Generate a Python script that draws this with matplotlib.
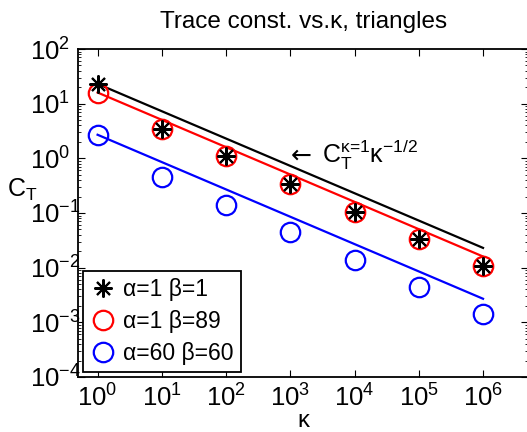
import matplotlib
matplotlib.use('Agg')
import matplotlib.pyplot as plt

plt.rcParams['font.family'] = ['Liberation Sans', 'DejaVu Sans']
plt.rcParams['mathtext.fontset'] = 'custom'
plt.rcParams['mathtext.rm'] = 'Liberation Sans'
plt.rcParams['mathtext.it'] = 'Liberation Sans'
plt.rcParams['mathtext.bf'] = 'Liberation Sans:bold'
plt.rcParams['axes.unicode_minus'] = True

# data
kappa = [1, 10, 100, 1e3, 1e4, 1e5, 1e6]
ct_a1_b1 = [22.9, 3.39, 1.10, 0.343, 0.106, 0.0333, 0.0107]
ct_a1_b89 = [15.4, 3.39, 1.10, 0.343, 0.106, 0.0333, 0.0107]
ct_a60_b60 = [2.68, 0.457, 0.143, 0.0442, 0.0139, 0.00438, 0.00141]

fit_kappa = [1, 1e6]
fit_black = [23, 0.023]
fit_red = [16, 0.016]
fit_blue = [2.7, 0.0027]

fig = plt.figure(figsize=(5.27, 4.32), dpi=100)
ax = fig.add_axes([78.3/527, (432-377)/432, (528-78.3)/527, (377-49)/432])

ax.plot(fit_kappa, fit_black, color='k', lw=1.6)
ax.plot(fit_kappa, fit_red, color='r', lw=1.6)
ax.plot(fit_kappa, fit_blue, color='b', lw=1.6)

h1, = ax.plot(kappa, ct_a1_b1, ls='none', marker=(8, 2, 0), ms=13, mew=1.5,
              color='k', zorder=4, label=r'α=1 β=1')
h2, = ax.plot(kappa, ct_a1_b89, ls='none', marker='o', ms=14, mew=1.6,
              mfc='none', mec='r', zorder=3, label=r'α=1 β=89')
h3, = ax.plot(kappa, ct_a60_b60, ls='none', marker='o', ms=14, mew=1.6,
              mfc='none', mec='b', zorder=3, label=r'α=60 β=60')

ax.set_xscale('log')
ax.set_yscale('log')
ax.set_xlim(10**-0.3, 10**6.7)
ax.set_ylim(1e-4, 1e2)
ax.set_xticks(kappa)
ax.set_yticks([1e-4, 1e-3, 1e-2, 1e-1, 1e0, 1e1, 1e2])

ax.tick_params(which='both', direction='in', top=True, right=True, labelsize=18.5)
ax.tick_params(which='major', length=5, width=0.8)
ax.tick_params(which='minor', length=2.5, width=0.6)
ax.tick_params(axis='x', which='major', pad=5)
ax.tick_params(axis='y', which='major', pad=35)
for lab in ax.get_yticklabels():
    lab.set_horizontalalignment('left')
for sp in ax.spines.values():
    sp.set_linewidth(1.3)

ax.set_title('Trace const. vs.κ, triangles', fontsize=17.5, pad=15)
ax.set_xlabel('κ', fontsize=17, va='baseline')
ax.xaxis.set_label_coords(0.5, -0.153)
ax.set_ylabel(r'C$_{\rm T}$', fontsize=18, rotation=0, ha='left', va='baseline')
ax.yaxis.set_label_coords(-0.158, 0.55)

ax.text(1000, 0.82, '←', fontsize=18, family='DejaVu Sans',
        ha='left', va='baseline')
ax.text(3100, 0.82, r'C$_{\rm T}^{\text{κ=1}}$κ$^{−1/2}$', fontsize=18,
        ha='left', va='baseline')

leg = ax.legend(handles=[h1, h2, h3], loc='lower left',
                bbox_to_anchor=(0.011, 0.015), fontsize=16.5, fancybox=False,
                edgecolor='k', framealpha=1, handlelength=1.1,
                handletextpad=0.35, labelspacing=0.4, borderpad=0.3,
                borderaxespad=0)
leg.get_frame().set_linewidth(1.3)

fig.savefig('out.png', dpi=100)
